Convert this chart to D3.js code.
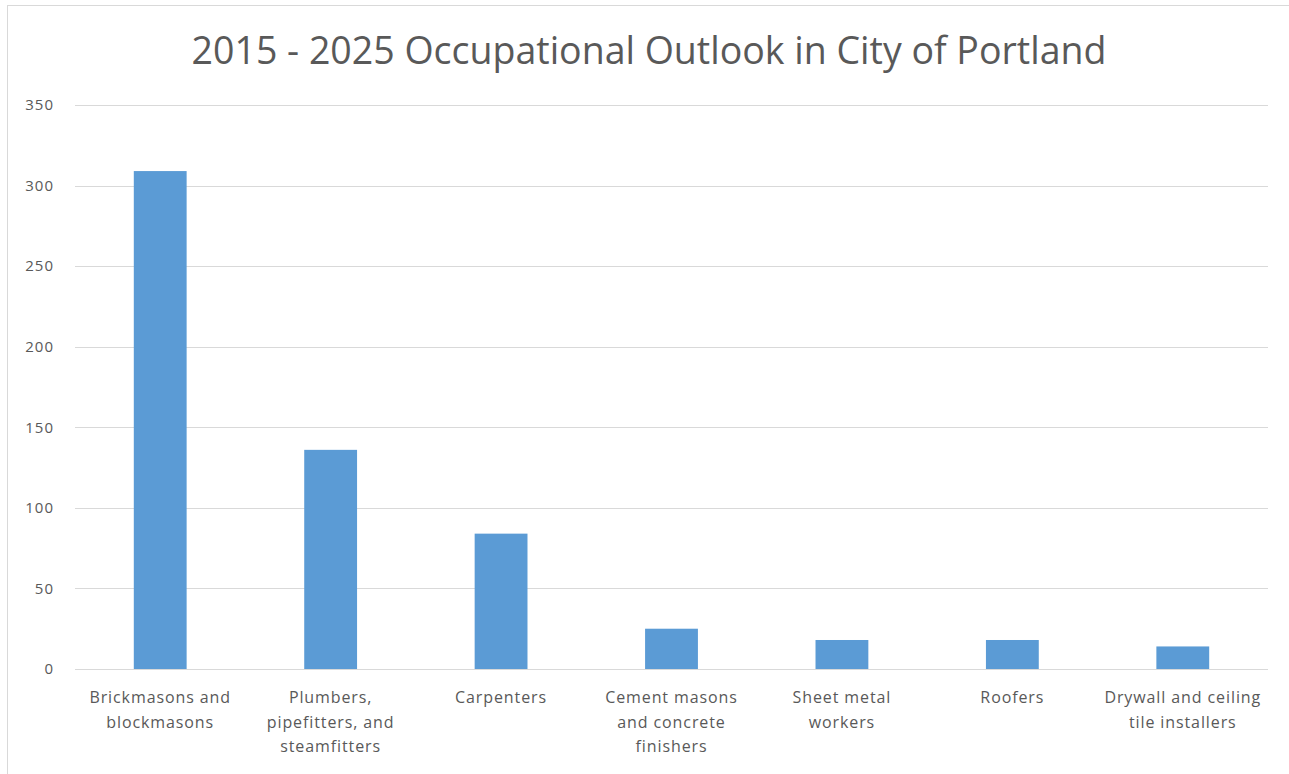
<!DOCTYPE html>
<html lang="en">
<head>
    <meta charset="UTF-8">
    <title>Occupational Outlook</title>
    <script src="https://d3js.org/d3.v7.min.js"></script>
    <style>
        body { margin: 0; background: #fff; }
        text { font-family: "Open Sans", sans-serif; }
    </style>
</head>
<body>
<svg width="1289" height="774"></svg>
<script>
    // data
    const categories = [
        "Brickmasons and blockmasons",
        "Plumbers, pipefitters, and steamfitters",
        "Carpenters",
        "Cement masons and concrete finishers",
        "Sheet metal workers",
        "Roofers",
        "Drywall and ceiling tile installers"
    ];
    const labelLines = [
        ["Brickmasons and", "blockmasons"],
        ["Plumbers,", "pipefitters, and", "steamfitters"],
        ["Carpenters"],
        ["Cement masons", "and concrete", "finishers"],
        ["Sheet metal", "workers"],
        ["Roofers"],
        ["Drywall and ceiling", "tile installers"]
    ];
    const values = [309, 136, 84, 25, 18, 18, 14];
    const yTicks = [0, 50, 100, 150, 200, 250, 300, 350];
    const title = "2015 - 2025 Occupational Outlook in City of Portland";

    const width = 1289;
    const height = 774;
    const margin = {top: 105, right: 21, bottom: 105, left: 75};

    const svg = d3.select('svg')
        .attr('width', width)
        .attr('height', height);

    // chart frame
    svg.append('rect')
        .attr('x', 7.5).attr('y', 5.5)
        .attr('width', width + 10).attr('height', height + 10)
        .attr('fill', 'none')
        .attr('stroke', '#d9d9d9');

    const x = d3.scaleBand()
        .domain(categories)
        .range([margin.left, width - margin.right])
        .paddingInner(0.69)
        .paddingOuter(0.345);

    const y = d3.scaleLinear()
        .domain([0, 350])
        .range([669, margin.top]);

    // gridlines
    svg.append('g')
        .selectAll('line')
        .data(yTicks)
        .enter().append('line')
        .attr('x1', margin.left)
        .attr('x2', width - margin.right)
        .attr('y1', d => Math.round(y(d)) + 0.5)
        .attr('y2', d => Math.round(y(d)) + 0.5)
        .attr('stroke', '#d9d9d9')
        .attr('stroke-width', 1);

    // y axis labels
    const yAxis = d3.axisLeft(y).tickValues(yTicks).tickSize(0).tickPadding(0);
    svg.append('g')
        .attr('transform', 'translate(54,0)')
        .call(yAxis)
        .call(g => g.select('.domain').remove())
        .selectAll('text')
        .attr('fill', '#595959')
        .style('font-size', '15px')
        .style('letter-spacing', '1px')
        .style('font-family', '"Open Sans", sans-serif');

    // bars
    svg.append('g')
        .selectAll('rect')
        .data(values)
        .enter().append('rect')
        .attr('x', (d, i) => x(categories[i]))
        .attr('width', x.bandwidth())
        .attr('y', d => y(d))
        .attr('height', d => y(0) - y(d))
        .attr('fill', '#5b9bd5');

    // category labels
    const labels = svg.append('g')
        .selectAll('text')
        .data(categories)
        .enter().append('text')
        .attr('text-anchor', 'middle')
        .attr('fill', '#595959')
        .style('font-size', '16px')
        .style('letter-spacing', '0.9px')
        .attr('x', d => x(d) + x.bandwidth() / 2)
        .attr('y', 703);

    labels.each(function(d, i) {
        d3.select(this).selectAll('tspan')
            .data(labelLines[i])
            .enter().append('tspan')
            .attr('x', x(d) + x.bandwidth() / 2)
            .attr('dy', (t, j) => j === 0 ? 0 : 24.5)
            .text(t => t);
    });

    // title
    svg.append('text')
        .attr('x', 649)
        .attr('y', 64)
        .attr('text-anchor', 'middle')
        .attr('fill', '#595959')
        .style('font-size', '37.5px')
        .text(title);
</script>
</body>
</html>
